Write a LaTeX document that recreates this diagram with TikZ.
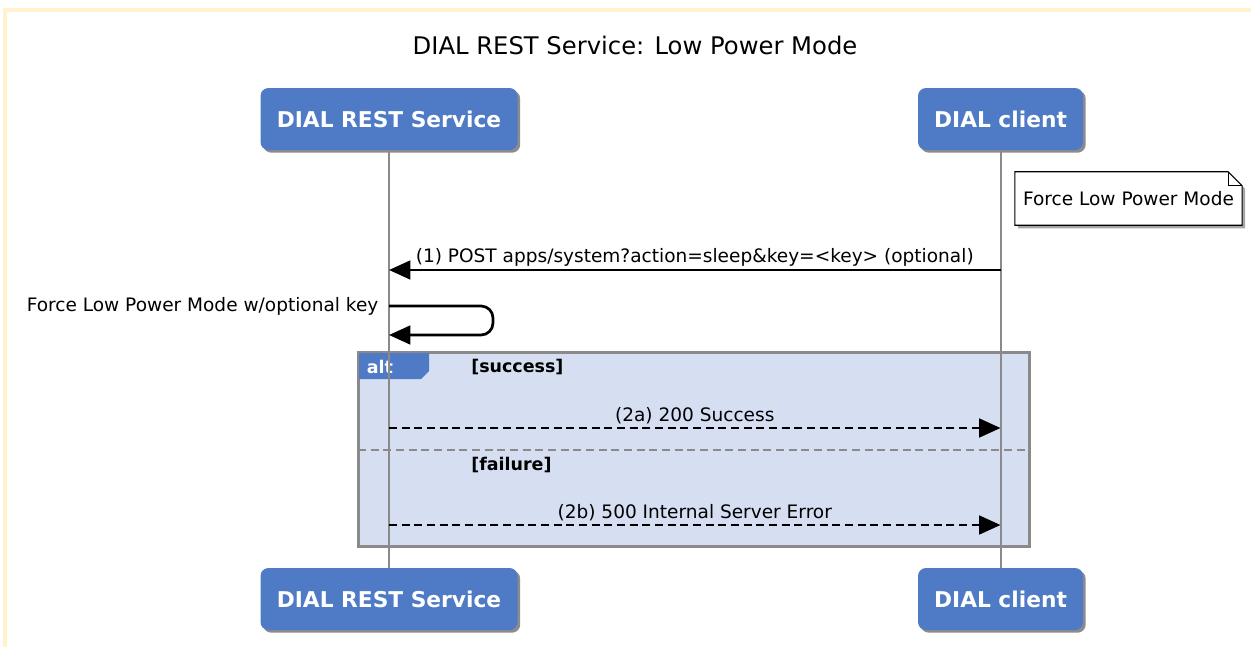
\documentclass[tikz,border=0pt]{standalone}
\usepackage{fontspec}
\setmainfont{DejaVu Sans}
\usetikzlibrary{arrows.meta,shadows}
\definecolor{actorblue}{HTML}{4F7AC6}
\definecolor{altfill}{HTML}{D6DEF1}
\definecolor{framegray}{HTML}{8A8A8A}
\definecolor{cream}{HTML}{FFF2CC}

\begin{document}
\begin{tikzpicture}[x=0.75pt,y=-0.75pt]
    	\tikzstyle{actor}=[rectangle, rounded corners=6pt, fill=actorblue, text=white, font=\fontsize{16.3}{19}\selectfont\bfseries, minimum height=46.5pt, drop shadow={shadow xshift=2pt, shadow yshift=-2pt, fill=black, opacity=.45}]
    	\tikzstyle{lifeline}=[draw=framegray, line width=1.5pt]
    	\tikzstyle{msg}=[draw=black, line width=2pt, -{Triangle[length=16pt,width=14pt]}]
    	\tikzstyle{reply}=[msg, dash pattern=on 6pt off 3.5pt]
    	\tikzstyle{lbl}=[font=\fontsize{13.9}{16}\selectfont, inner sep=1pt]
    	\tikzstyle{guard}=[font=\fontsize{13.1}{15}\selectfont\bfseries, anchor=west, inner sep=0pt]
    	
    	\useasboundingbox (0,0) rectangle (1251,646);
    	% frame
    	\draw [cream, line width=3.5pt] (5,660) -- (5,10) -- (1260,10);
    	
    	% Title
    	\node at (635, 45) (title) {\fontsize{18.2}{21}\selectfont DIAL REST Service: Low Power Mode};
    	
    	% Participants
    	\node at (389, 119) [actor, minimum width=192.75pt] (srvtop) {DIAL REST Service};
    	\node at (1000.5, 119) [actor, minimum width=123.75pt] (clitop) {DIAL client};
    	\node at (389, 599) [actor, minimum width=192.75pt] (srvbot) {DIAL REST Service};
    	\node at (1000.5, 599) [actor, minimum width=123.75pt] (clibot) {DIAL client};
    	
    	% alt frame
    	\node at (694, 449.5) [draw=framegray, line width=1.5pt, fill=altfill, minimum width=502.5pt, minimum height=144.75pt, inner sep=0pt] (alt) {};
    	\draw [fill=actorblue, draw=none] (alt.north west) -- ++(71,0) -- ++(0,19) -- ++(-8,8) -- ++(-63,0) -- cycle;
    	\draw [framegray, line width=1.5pt] (alt.north west) rectangle (alt.south east);
    	\node at (380, 367) [text=white, font=\fontsize{13.1}{15}\selectfont\bfseries] (alttag) {alt};
    	\node at (471, 367) [guard] (succ) {[success]};
    	\node at (471, 465) [guard] (fail) {[failure]};
    	\draw [framegray, line width=1.5pt, dash pattern=on 6pt off 3.5pt] (alt.west |- 0,450) -- (alt.east |- 0,450);
    	
    	% Lifelines
    	\draw [lifeline] (srvtop) -- (srvbot);
    	\draw [lifeline] (clitop) -- (clibot);
    	
    	% Note
    	\node at (1128.5, 198.5) [minimum width=170pt, minimum height=39.75pt, inner sep=0pt] (note) {};
    	\fill [black, opacity=.35] ([shift={(3,3)}]note.north west) -- ([shift={(-11,3)}]note.north east) -- ([shift={(3,17)}]note.north east) -- ([shift={(3,3)}]note.south east) -- ([shift={(3,3)}]note.south west) -- cycle;
    	\draw [fill=white, line width=0.8pt] (note.north west) -- ([shift={(-14,0)}]note.north east) -- ([shift={(0,14)}]note.north east) -- (note.south east) -- (note.south west) -- cycle;
    	\draw [line width=0.8pt] ([shift={(-14,0)}]note.north east) -- ([shift={(-14,14)}]note.north east) -- ([shift={(0,14)}]note.north east);
    	\node at (note.center) [lbl] (notetext) {Force Low Power Mode};
    	
    	% Messages
    	\coordinate (c1) at (clitop |- 0,270);
    	\coordinate (s1) at (srvtop |- 0,270);
    	\coordinate (s2) at (srvtop |- 0,306);
    	\coordinate (s3) at (srvtop |- 0,335);
    	\coordinate (s4) at (srvtop |- 0,428);
    	\coordinate (c4) at (clitop |- 0,428);
    	\coordinate (s5) at (srvtop |- 0,525);
    	\coordinate (c5) at (clitop |- 0,525);
    	
    	\draw [msg] (c1) -- node[lbl, above=1pt]{(1) POST apps/system?action=sleep\&key=<key> (optional)} (s1);
    	\draw [msg, rounded corners=9pt] (s2) -- ++(104,0) |- (s3);
    	\node at ([shift={(-9,0)}]s2) [lbl, anchor=east] (selflbl) {Force Low Power Mode w/optional key};
    	\draw [reply] (s4) -- node[lbl, above=1pt]{(2a) 200 Success} (c4);
    	\draw [reply] (s5) -- node[lbl, above=1pt]{(2b) 500 Internal Server Error} (c5);
    \end{tikzpicture}
\end{document}
